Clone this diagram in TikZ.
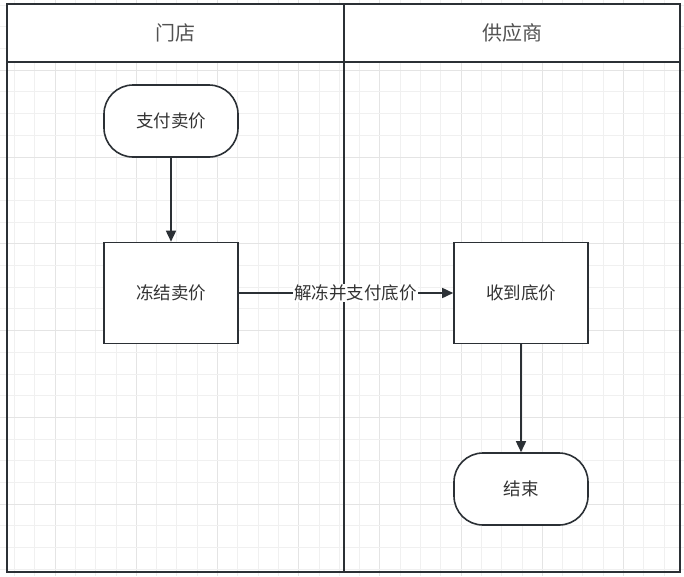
\documentclass[tikz,border=0pt]{standalone}
\usepackage{fontspec}
\setmainfont{Noto Sans CJK SC}
\usetikzlibrary{arrows.meta}
\definecolor{linec}{HTML}{2B3035}
\definecolor{txt}{HTML}{333333}
\definecolor{gridminor}{HTML}{F0F0F0}
\definecolor{gridmajor}{HTML}{E4E4E4}
\begin{document}
\begin{tikzpicture}[x=1pt,y=-1pt,
  lane/.style={draw=linec, line width=1.6pt},
  lanetitle/.style={text=txt!85, font=\fontsize{20}{24}\selectfont},
  terminal/.style={draw=linec, line width=1.6pt, rounded corners=29pt, fill=white,
    minimum width=134pt, minimum height=72pt, text=txt, font=\fontsize{17.5}{21}\selectfont},
  process/.style={draw=linec, line width=1.6pt, fill=white,
    minimum width=134pt, minimum height=101pt, text=txt, font=\fontsize{17.5}{21}\selectfont},
  flow/.style={draw=linec, line width=1.6pt, -{Triangle[length=11pt,width=10pt]}},
  edgelabel/.style={fill=white, text=txt, font=\fontsize{17.5}{21}\selectfont, inner sep=1pt}
]
\useasboundingbox (0,0) rectangle (684,576);
\fill[white] (0,0) rectangle (684,576);
% grid
\foreach \i in {0,...,33} {
  \pgfmathsetmacro{\gx}{14.4+20.3*\i}
  \pgfmathtruncatemacro{\m}{mod(\i+2,4)}
  \ifnum\m=0 \draw[gridmajor, line width=0.8pt] (\gx,0) -- (\gx,576);
  \else \draw[gridminor, line width=0.8pt] (\gx,0) -- (\gx,576); \fi
}
\foreach \j in {0,...,26} {
  \pgfmathsetmacro{\gy}{5+21.7*\j}
  \pgfmathtruncatemacro{\m}{mod(\j+1,4)}
  \ifnum\m=0 \draw[gridmajor, line width=0.8pt] (0,\gy) -- (684,\gy);
  \else \draw[gridminor, line width=0.8pt] (0,\gy) -- (684,\gy); \fi
}
% swimlanes
\fill[white] (7,4) rectangle (680,62);
\draw[lane] (7,4) rectangle (680,572);
\draw[lane] (7,62) -- (680,62);
\draw[lane] (344,4) -- (344,572);
\node[lanetitle] (lane1) at (175.5,33) {门店};
\node[lanetitle] (lane2) at (512,33) {供应商};
% nodes
\node[terminal] (pay) at (171,121) {支付卖价};
\node[process] (freeze) at (171,293) {冻结卖价};
\node[process] (recv) at (521,293) {收到底价};
\node[terminal] (end) at (521,489) {结束};
% connectors
\draw[flow] (pay) -- (freeze);
\draw[flow] (freeze) -- node[edgelabel, pos=0.545] {解冻并支付底价} (recv);
\draw[flow] (recv) -- (end);
\end{tikzpicture}
\end{document}
